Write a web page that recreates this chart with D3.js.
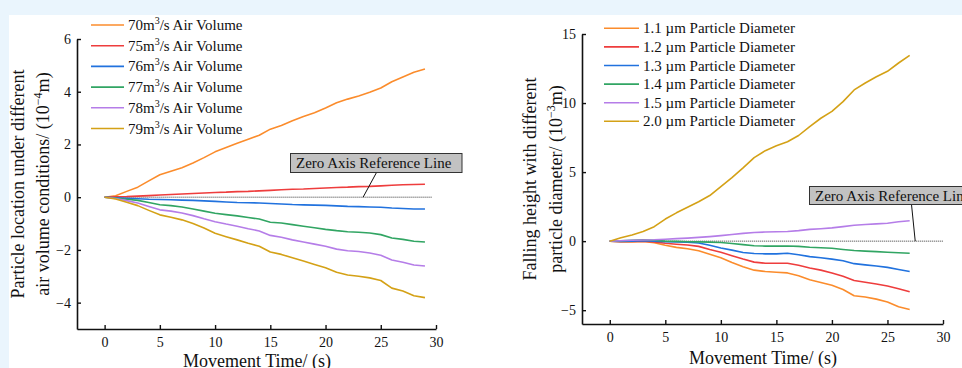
<!DOCTYPE html>
<html>
<head>
<meta charset="utf-8">
<script src="https://cdn.jsdelivr.net/npm/d3@7"></script>
<style>
  html, body { margin: 0; padding: 0; background: #eaf5fd; }
  svg { display: block; }
  text { font-family: "Liberation Serif", "Times New Roman", serif; fill: #111; }
</style>
</head>
<body>
<svg id="chart" width="962" height="368"></svg>
<script>
// ---------- Left chart data ----------
const timeLeft = [0,1,2,3,4,5,6,7,8,9,10,11,12,13,14,15,16,17,18,19,20,21,22,23,24,25,26,27,28,29];
const airVolumeLabels = ["70", "75", "76", "77", "78", "79"];
const air70 = [0,0.05,0.22,0.38,0.62,0.85,0.98,1.12,1.3,1.5,1.72,1.88,2.05,2.2,2.35,2.58,2.72,2.9,3.06,3.2,3.38,3.58,3.72,3.84,3.98,4.14,4.38,4.56,4.74,4.86];
const air75 = [0,0.01,0.02,0.04,0.06,0.08,0.1,0.12,0.14,0.16,0.18,0.19,0.21,0.22,0.24,0.26,0.28,0.3,0.31,0.33,0.35,0.37,0.38,0.4,0.41,0.43,0.45,0.47,0.48,0.49];
const air76 = [0,-0.02,-0.04,-0.06,-0.08,-0.09,-0.1,-0.11,-0.12,-0.14,-0.16,-0.18,-0.2,-0.21,-0.22,-0.24,-0.26,-0.28,-0.29,-0.3,-0.31,-0.33,-0.35,-0.36,-0.37,-0.38,-0.41,-0.43,-0.45,-0.45];
const air77 = [0,-0.03,-0.08,-0.12,-0.2,-0.29,-0.32,-0.37,-0.45,-0.53,-0.61,-0.66,-0.71,-0.77,-0.83,-0.95,-0.98,-1.04,-1.1,-1.16,-1.22,-1.27,-1.31,-1.33,-1.36,-1.42,-1.55,-1.6,-1.67,-1.70];
const air78 = [0,-0.05,-0.13,-0.22,-0.35,-0.48,-0.53,-0.6,-0.7,-0.82,-0.93,-1.02,-1.1,-1.2,-1.28,-1.45,-1.52,-1.62,-1.7,-1.78,-1.86,-1.97,-2.03,-2.06,-2.12,-2.2,-2.38,-2.47,-2.57,-2.61];
const air79 = [0,-0.07,-0.19,-0.32,-0.5,-0.67,-0.76,-0.86,-1.0,-1.17,-1.37,-1.5,-1.62,-1.75,-1.86,-2.08,-2.17,-2.3,-2.42,-2.55,-2.68,-2.85,-2.95,-3.0,-3.06,-3.16,-3.45,-3.56,-3.74,-3.81];
const leftXTicks = [0,5,10,15,20,25,30];
const leftYTicks = [-4,-2,0,2,4,6];

// ---------- Right chart data ----------
const timeRight = [0,1,2,3,4,5,6,7,8,9,10,11,12,13,14,15,16,17,18,19,20,21,22,23,24,25,26,27];
const diameterLabels = ["1.1", "1.2", "1.3", "1.4", "1.5", "2.0"];
const d11 = [0,-0.05,-0.05,-0.02,-0.12,-0.3,-0.45,-0.55,-0.7,-0.95,-1.2,-1.55,-1.85,-2.1,-2.2,-2.25,-2.3,-2.5,-2.8,-3.0,-3.2,-3.5,-3.95,-4.05,-4.2,-4.4,-4.75,-4.95];
const d12 = [0,-0.03,-0.02,0.0,-0.05,-0.15,-0.22,-0.28,-0.38,-0.6,-0.8,-1.05,-1.3,-1.52,-1.6,-1.6,-1.6,-1.75,-1.95,-2.1,-2.3,-2.55,-2.85,-2.98,-3.1,-3.25,-3.45,-3.67];
const d13 = [0,-0.02,0.0,0.03,0.0,-0.04,-0.06,-0.08,-0.13,-0.3,-0.5,-0.65,-0.82,-0.9,-0.92,-0.92,-0.88,-0.98,-1.12,-1.2,-1.3,-1.42,-1.63,-1.72,-1.8,-1.9,-2.05,-2.2];
const d14 = [0,0.03,0.06,0.1,0.06,0.0,-0.02,-0.04,-0.05,-0.07,-0.1,-0.17,-0.25,-0.33,-0.36,-0.36,-0.35,-0.38,-0.44,-0.48,-0.52,-0.6,-0.68,-0.72,-0.76,-0.8,-0.84,-0.88];
const d15 = [0,0.03,0.06,0.08,0.1,0.14,0.18,0.22,0.27,0.33,0.4,0.48,0.56,0.63,0.66,0.68,0.7,0.76,0.85,0.9,0.96,1.05,1.15,1.2,1.25,1.3,1.4,1.48];
const d20 = [0,0.25,0.45,0.7,1.05,1.6,2.05,2.45,2.85,3.3,3.95,4.6,5.3,6.05,6.55,6.9,7.2,7.65,8.3,8.9,9.4,10.1,10.95,11.45,11.9,12.3,12.9,13.45];
const rightXTicks = [0,5,10,15,20,25,30];
const rightYTicks = [-5,0,5,10,15];

const colors = ["#fb8c2c", "#ee3d3d", "#2172de", "#31a563", "#b57de8", "#d4a116"];

const svg = d3.select("#chart");
// white panel
svg.append("rect").attr("x", 9).attr("y", 15).attr("width", 953).attr("height", 353).attr("fill", "#ffffff");

function drawChart(cfg) {
  const g = svg.append("g");
  const x = d3.scaleLinear().domain(cfg.xDomain).range(cfg.xRange);
  const y = d3.scaleLinear().domain(cfg.yDomain).range(cfg.yRange);

  // zero reference line (dotted)
  g.append("line")
    .attr("x1", x(0)).attr("x2", x(cfg.zeroEnd))
    .attr("y1", y(0)).attr("y2", y(0))
    .attr("stroke", "#333").attr("stroke-width", 1).attr("stroke-dasharray", "1,1");

  // series
  const line = d3.line().x((d, i) => x(cfg.time[i])).y(d => y(d)).curve(d3.curveLinear);
  cfg.series.forEach((s, i) => {
    g.append("path").datum(s)
      .attr("fill", "none").attr("stroke", colors[i]).attr("stroke-width", 1.6)
      .attr("stroke-linejoin", "round")
      .attr("d", line);
  });

  // axes
  const xAxis = d3.axisBottom(x).tickValues(cfg.xTicks).tickSizeInner(-4).tickSizeOuter(0).tickPadding(8);
  const yAxis = d3.axisLeft(y).tickValues(cfg.yTicks).tickSizeInner(-4).tickSizeOuter(0).tickPadding(6);
  const gx = g.append("g").attr("transform", `translate(0,${cfg.yRange[0]})`).call(xAxis);
  const gy = g.append("g").attr("transform", `translate(${cfg.xRange[0]},0)`).call(yAxis);
  [gx, gy].forEach(a => {
    a.selectAll("path.domain").attr("stroke", "#111").attr("stroke-width", 1.6);
    a.selectAll(".tick line").attr("stroke", "#111").attr("stroke-width", 1.4);
    a.selectAll(".tick text").attr("font-family", "Liberation Serif, serif").attr("font-size", 14).attr("fill", "#111");
  });

  // x title
  g.append("text").attr("x", cfg.xTitleX).attr("y", cfg.xTitleY)
    .attr("text-anchor", "middle").attr("font-size", 18).text("Movement Time/ (s)");

  // y titles (two lines, rotated)
  const t1 = g.append("text")
    .attr("transform", `translate(${cfg.yTitle1X},${cfg.yTitleCY}) rotate(-90)`)
    .attr("text-anchor", "middle").attr("font-size", 18).text(cfg.yTitle1);
  const t2 = g.append("text")
    .attr("transform", `translate(${cfg.yTitle2X},${cfg.yTitleCY}) rotate(-90)`)
    .attr("text-anchor", "middle").attr("font-size", 18);
  t2.append("tspan").text(cfg.yTitle2 + " (10");
  t2.append("tspan").attr("dy", -7).attr("font-size", 12).text(cfg.yExp);
  t2.append("tspan").attr("dy", 7).text("m)");

  // legend
  cfg.legendLabels.forEach((lab, i) => {
    const ly = cfg.legendY + i * cfg.legendStep;
    g.append("line").attr("x1", cfg.legendX).attr("x2", cfg.legendX + cfg.legendLen)
      .attr("y1", ly).attr("y2", ly).attr("stroke", colors[i]).attr("stroke-width", 1.6);
    const t = g.append("text").attr("x", cfg.legendX + cfg.legendLen + 4).attr("y", ly + 5).attr("font-size", 15);
    cfg.legendText(t, lab);
  });

  // annotation
  const a = cfg.annot;
  g.append("line").attr("x1", a.boxX + a.leaderFromDx).attr("y1", a.boxY + a.boxH)
    .attr("x2", x(a.leaderT)).attr("y2", y(0)).attr("stroke", "#111").attr("stroke-width", 1);
  g.append("rect").attr("x", a.boxX).attr("y", a.boxY).attr("width", a.boxW).attr("height", a.boxH)
    .attr("fill", "#c2c2c2").attr("stroke", "#333").attr("stroke-width", 1);
  g.append("text").attr("x", a.boxX + 5.5).attr("y", a.boxY + a.boxH / 2 + 5)
    .attr("font-size", 15).text("Zero Axis Reference Line");
}

drawChart({
  time: timeLeft,
  series: [air70, air75, air76, air77, air78, air79],
  xDomain: [-2.5, 30], xRange: [77, 436],
  yDomain: [-5, 6], yRange: [329, 39],
  xTicks: leftXTicks, yTicks: leftYTicks,
  zeroEnd: 29.6,
  xTitleX: 257, xTitleY: 367,
  yTitle1: "Particle location under different",
  yTitle2: "air volume conditions/",
  yExp: "\u22124",
  yTitle1X: 24, yTitle2X: 49, yTitleCY: 184,
  legendLabels: airVolumeLabels,
  legendX: 91, legendLen: 33, legendY: 25, legendStep: 20.7,
  legendText: (t, lab) => {
    t.append("tspan").text(lab + "m");
    t.append("tspan").attr("dy", -6).attr("font-size", 10).text("3");
    t.append("tspan").attr("dy", 6).text("/s Air Volume");
  },
  annot: { boxX: 290.5, boxY: 153.5, boxW: 171.5, boxH: 19, leaderFromDx: 86, leaderT: 23.4 }
});

drawChart({
  time: timeRight,
  series: [d11, d12, d13, d14, d15, d20],
  xDomain: [-2.5, 30], xRange: [582, 943],
  yDomain: [-6, 15], yRange: [324, 34],
  xTicks: rightXTicks, yTicks: rightYTicks,
  zeroEnd: 30,
  xTitleX: 763, xTitleY: 364,
  yTitle1: "Falling height with different",
  yTitle2: "particle diameter/",
  yExp: "\u22123",
  yTitle1X: 536, yTitle2X: 562, yTitleCY: 179,
  legendLabels: diameterLabels,
  legendX: 604, legendLen: 35, legendY: 28.3, legendStep: 18.6,
  legendText: (t, lab) => { t.text(lab + " \u00b5m Particle Diameter"); },
  annot: { boxX: 809.5, boxY: 186.5, boxW: 171.5, boxH: 18, leaderFromDx: 102, leaderT: 27.5 }
});
</script>
</body>
</html>
